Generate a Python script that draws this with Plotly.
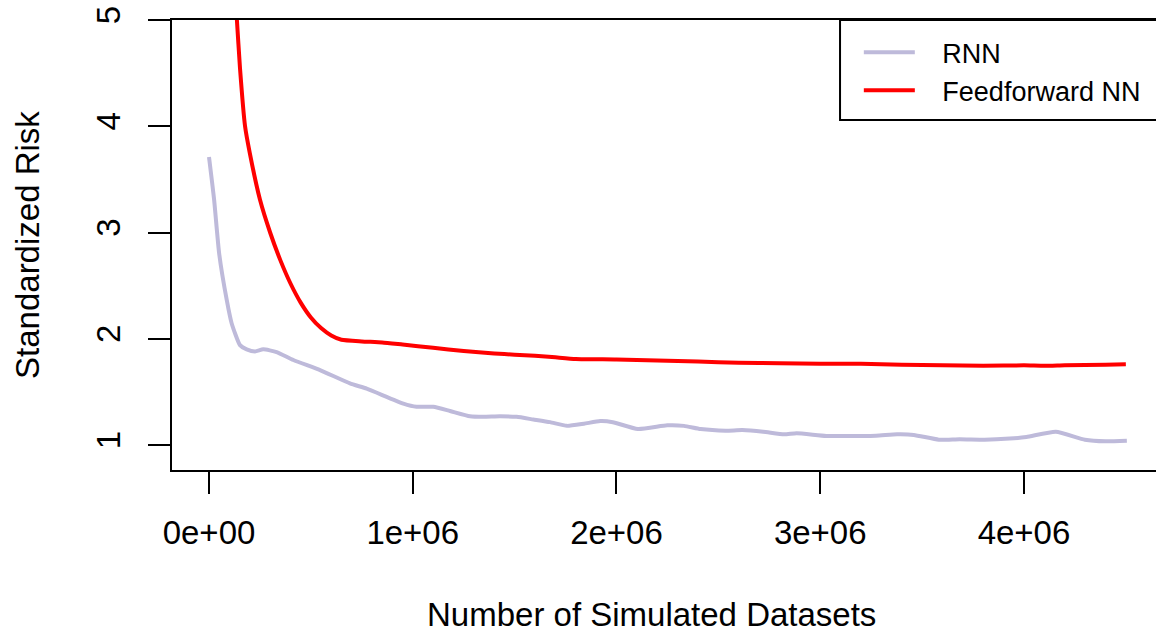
import plotly.graph_objects as go

# ---- data (x in millions of simulated datasets) ----
rnn_x_m = [0, 0.025, 0.05, 0.087, 0.111, 0.152, 0.185, 0.226, 0.266, 0.332, 0.414,
           0.545, 0.692, 0.774, 0.954, 1.019, 1.101, 1.183, 1.281, 1.346, 1.428,
           1.51, 1.592, 1.674, 1.757, 1.84, 1.92, 1.982, 2.105, 2.249, 2.331,
           2.413, 2.536, 2.618, 2.72, 2.823, 2.884, 3.029, 3.15, 3.274, 3.377,
           3.459, 3.582, 3.684, 3.807, 3.93, 4.012, 4.156, 4.299, 4.4, 4.505]
rnn_y = [3.71, 3.31, 2.8, 2.365, 2.146, 1.94, 1.90, 1.88, 1.90, 1.875, 1.80,
         1.705, 1.58, 1.53, 1.39, 1.36, 1.36, 1.32, 1.27, 1.265, 1.27,
         1.265, 1.24, 1.215, 1.18, 1.2, 1.225, 1.215, 1.15, 1.185, 1.18,
         1.15, 1.135, 1.14, 1.125, 1.10, 1.11, 1.085, 1.085, 1.088, 1.10,
         1.095, 1.05, 1.055, 1.05, 1.06, 1.075, 1.125, 1.05, 1.035, 1.04]

ffnn_x_m = [0.0, 0.1, 0.137, 0.152, 0.177, 0.2, 0.25, 0.3, 0.35, 0.4, 0.45, 0.5,
            0.55, 0.6, 0.65, 0.75, 0.85, 0.95, 1.1, 1.25, 1.4, 1.5, 1.6, 1.7,
            1.8, 2.0, 2.2, 2.4, 2.6, 2.8, 3.0, 3.2, 3.4, 3.6, 3.8, 4.0, 4.1, 4.2,
            4.4, 4.5]
ffnn_y = [10.0, 6.0, 5.0, 4.55, 4.0, 3.75, 3.31, 3.0, 2.74, 2.52, 2.34, 2.2,
          2.1, 2.03, 1.99, 1.975, 1.965, 1.945, 1.915, 1.885, 1.862, 1.85,
          1.84, 1.825, 1.81, 1.805, 1.795, 1.785, 1.775, 1.77, 1.765, 1.765,
          1.755, 1.75, 1.745, 1.75, 1.745, 1.75, 1.755, 1.76]

x_tickvals = [0, 1e6, 2e6, 3e6, 4e6]
x_ticktext = ["0e+00", "1e+06", "2e+06", "3e+06", "4e+06"]
y_tickvals = [1, 2, 3, 4, 5]
y_ticktext = ["1", "2", "3", "4", "5"]

series_names = ["RNN", "Feedforward NN"]
series_colors = ["#BEBADA", "#FF0000"]

FONT = "Liberation Sans, Arial, Helvetica, sans-serif"
GAP = "\u00a0\u00a0\u00a0"

fig = go.Figure()
fig.add_trace(go.Scatter(
    x=[v * 1e6 for v in rnn_x_m], y=rnn_y, mode="lines", name=GAP + series_names[0],
    line=dict(color=series_colors[0], width=4, shape="spline", smoothing=0.5)))
fig.add_trace(go.Scatter(
    x=[v * 1e6 for v in ffnn_x_m], y=ffnn_y, mode="lines", name=GAP + series_names[1],
    line=dict(color=series_colors[1], width=4, shape="spline", smoothing=0.5)))

fig.update_layout(
    width=1156, height=635,
    margin=dict(l=172, r=0, t=20, b=165),
    paper_bgcolor="white", plot_bgcolor="white",
    font=dict(family=FONT, color="black", size=33),
    showlegend=True,
    legend=dict(x=0.698, y=0.982, xanchor="left", yanchor="top",
                bgcolor="rgba(0,0,0,0)", borderwidth=0,
                font=dict(family=FONT, size=27, color="black"),
                itemwidth=51, tracegroupgap=0),
    xaxis=dict(range=[-0.1816e6, 4.648e6], showgrid=False, zeroline=False,
               showline=True, linecolor="black", linewidth=2, mirror=True,
               ticks="outside", ticklen=22, tickwidth=2, tickcolor="black",
               tickvals=x_tickvals, ticktext=x_ticktext,
               tickfont=dict(family=FONT, size=33), ticklabelstandoff=10),
    yaxis=dict(range=[0.7647, 5.0], showgrid=False, zeroline=False,
               showline=True, linecolor="black", linewidth=2, mirror=False,
               ticks="outside", ticklen=22, tickwidth=2, tickcolor="black",
               tickvals=y_tickvals, ticktext=y_ticktext, tickangle=-90,
               tickfont=dict(family=FONT, size=33), ticklabelstandoff=15),
    shapes=[dict(type="rect", xref="paper", yref="paper",
                 x0=0.6789, x1=1.02, y0=0.7778, y1=1.0,
                 line=dict(color="black", width=2), fillcolor="rgba(0,0,0,0)")],
    annotations=[
        dict(text="Number of Simulated Datasets", xref="paper", yref="paper",
             x=0.4868, y=-0.322, xanchor="center", yanchor="middle",
             showarrow=False, font=dict(family=FONT, size=33)),
        dict(text="Standardized Risk", xref="paper", yref="paper",
             x=-0.1474, y=0.5, xanchor="center", yanchor="middle", textangle=-90,
             showarrow=False, font=dict(family=FONT, size=33)),
    ],
)

fig.write_html("out.html")
